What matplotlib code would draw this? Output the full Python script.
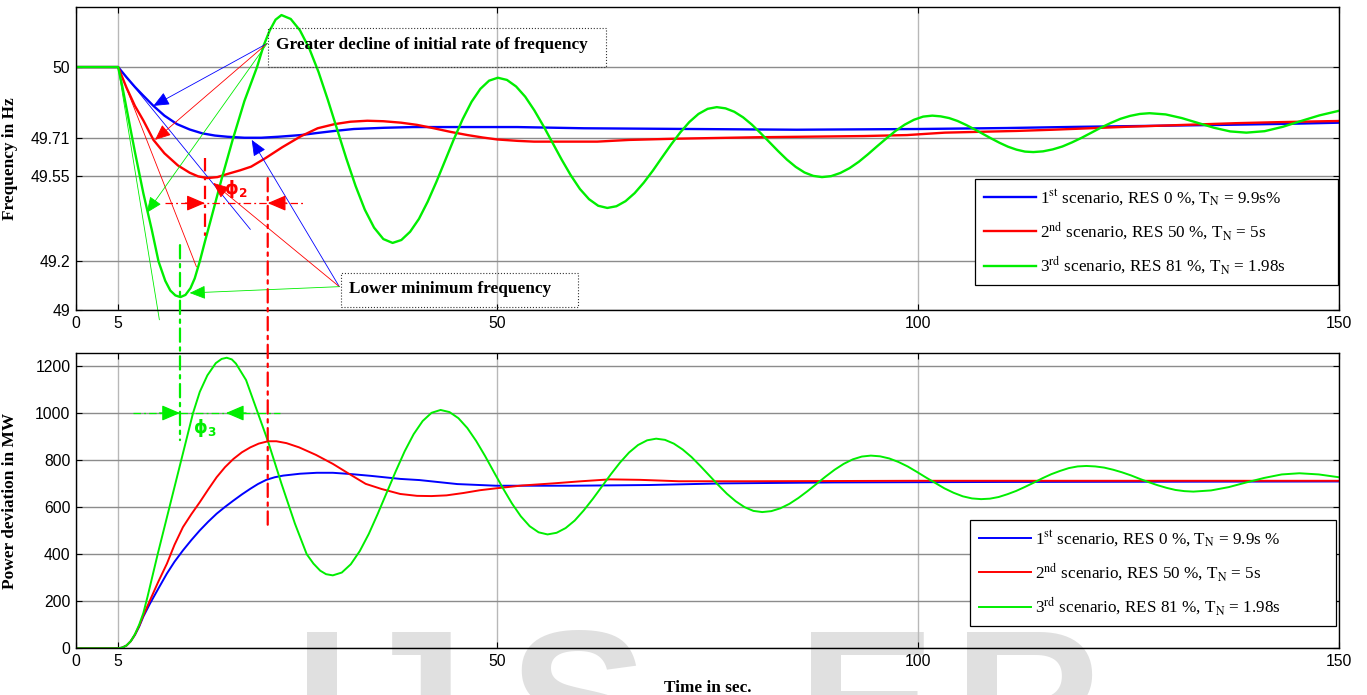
import matplotlib
matplotlib.use('Agg')
import matplotlib.pyplot as plt
from matplotlib.patches import Rectangle, ConnectionPatch

plt.rcParams['font.family'] = ['Liberation Sans', 'DejaVu Sans']
plt.rcParams['mathtext.fontset'] = 'stix'

# ---- data ----
# frequency (Hz)
t_f1 = [0, 5, 6, 7, 8, 9.2, 10.5, 12, 13.5, 15, 16.5, 18, 20, 22, 24, 26.7, 28.5, 30.7, 33, 36.6,
        40, 52.4, 60.3, 85.6, 100.2, 110.5, 119.2, 127.9, 136.2, 144.9, 150]
f1 = [50, 50, 49.958, 49.918, 49.882, 49.84, 49.80, 49.765, 49.743, 49.727, 49.718, 49.713, 49.709,
      49.709, 49.713, 49.72, 49.728, 49.737, 49.745, 49.75, 49.753, 49.753, 49.748, 49.742, 49.745,
      49.749, 49.754, 49.758, 49.762, 49.767, 49.771]

t_f2 = [0, 5, 6, 7, 8, 9.2, 10.5, 12.1, 13.5, 14.5, 15.6, 16.8, 18, 19.5, 20.8, 22.5, 24.5, 26.7,
        28.7, 30.7, 32.6, 34.6, 36.5, 38.6, 40.5, 42.5, 44.5, 46.5, 48.3, 50, 52.5, 54.4, 61.9, 65.7,
        71.2, 80.9, 93.6, 98.7, 103.2, 111.7, 116, 120.4, 124.7, 129.1, 133.5, 137.8, 142.6, 146.9, 150]
f2 = [50, 50, 49.915, 49.84, 49.78, 49.70, 49.645, 49.595, 49.565, 49.55, 49.543, 49.547, 49.56,
      49.575, 49.59, 49.625, 49.67, 49.715, 49.748, 49.765, 49.775, 49.779, 49.777, 49.771, 49.762,
      49.748, 49.733, 49.72, 49.71, 49.702, 49.696, 49.693, 49.693, 49.70, 49.705, 49.711, 49.716,
      49.72, 49.73, 49.737, 49.742, 49.748, 49.754, 49.759, 49.764, 49.769, 49.773, 49.776, 49.778]

t_f3 = [0, 5, 5.5, 6, 7, 8, 9, 9.8, 10.6, 11.2, 11.8, 12.4, 13.0, 13.6, 14.1, 14.7, 15.3, 16, 17.3,
        18.6, 20, 21.5, 22.3, 23, 23.7, 24.4,
        25.5, 26.6, 27.7, 28.8, 29.9, 31.0, 32.1, 33.2, 34.3, 35.4, 36.5, 37.6,
        38.64, 39.68, 40.73, 41.77, 42.81, 43.85, 44.89, 45.93, 46.98, 48.02, 49.06, 50.1,
        51.18, 52.27, 53.35, 54.43, 55.52, 56.6, 57.68, 58.77, 59.85, 60.93, 62.02, 63.1,
        64.18, 65.27, 66.35, 67.43, 68.52, 69.6, 70.68, 71.77, 72.85, 73.93, 75.02, 76.1,
        77.14, 78.18, 79.23, 80.27, 81.31, 82.35, 83.39, 84.43, 85.48, 86.52, 87.56, 88.6,
        89.69, 90.78, 91.88, 92.97, 94.06, 95.15, 96.24, 97.33, 98.43, 99.52, 100.61, 101.7,
        102.7, 103.7, 104.7, 105.7, 106.7, 107.7, 108.7, 109.7, 110.7, 111.7, 112.7, 113.7,
        114.85, 116.0, 117.15, 118.3, 119.45, 120.6, 121.75, 122.9, 124.05, 125.2, 126.35, 127.5,
        129.42, 131.33, 133.25, 135.17, 137.08, 139, 141.17, 143.33, 145.5, 147.67, 150]
f3 = [50, 50, 49.92, 49.83, 49.65, 49.48, 49.33, 49.2, 49.12, 49.08, 49.06, 49.053, 49.062, 49.09,
      49.13, 49.2, 49.28, 49.37, 49.54, 49.70, 49.86, 50.0, 50.09, 50.15, 50.195, 50.214,
      50.198, 50.151, 50.077, 49.980, 49.866, 49.745, 49.624, 49.511, 49.413, 49.339, 49.292, 49.276,
      49.288, 49.322, 49.375, 49.446, 49.528, 49.616, 49.704, 49.786, 49.857, 49.910, 49.944, 49.956,
      49.947, 49.920, 49.878, 49.822, 49.757, 49.688, 49.619, 49.554, 49.498, 49.456, 49.429, 49.42,
      49.427, 49.448, 49.481, 49.524, 49.574, 49.628, 49.681, 49.731, 49.774, 49.807, 49.828, 49.835,
      49.830, 49.816, 49.793, 49.763, 49.728, 49.691, 49.654, 49.619, 49.589, 49.566, 49.552, 49.547,
      49.551, 49.564, 49.584, 49.610, 49.641, 49.674, 49.706, 49.737, 49.763, 49.783, 49.796, 49.80,
      49.797, 49.790, 49.778, 49.762, 49.744, 49.725, 49.706, 49.688, 49.672, 49.66, 49.652, 49.65,
      49.653, 49.661, 49.673, 49.69, 49.709, 49.73, 49.751, 49.77, 49.787, 49.799, 49.807, 49.81,
      49.805, 49.79, 49.77, 49.75, 49.735, 49.73, 49.736, 49.754, 49.778, 49.801, 49.82]

# power deviation (MW)
t_p1 = [0, 5, 5.5, 6, 6.5, 7, 7.5, 8, 8.8, 9.8, 10.8, 11.7, 12.7, 13.7, 14.7, 15.7, 16.7, 17.7,
        18.7, 19.7, 20.7, 21.6, 22.6, 23.6, 24.6, 26.6, 28.6, 30.5, 32.5, 35, 38.5, 40.8, 45.3, 49.9,
        58.9, 68, 77, 90, 110, 150]
p1 = [0, 0, 3, 12, 30, 57, 92, 135, 191, 255, 318, 368, 416, 460, 501, 538, 572, 601, 628, 654,
      678, 698, 716, 727, 734, 742, 746, 746, 741, 733, 720, 715, 698, 691, 691, 694, 701, 705, 707, 709]

t_p2 = [0, 5, 5.5, 6, 6.5, 7, 7.5, 8, 8.8, 9.8, 10.8, 11.7, 12.7, 13.7, 14.7, 15.7, 16.7, 17.7,
        18.7, 19.7, 20.7, 21.7, 22.8, 23.8, 25, 26.5, 28.5, 30.5, 32.5, 34.4, 36.3, 38.5, 40.5, 42.2,
        44, 46, 48, 49.9, 53, 56.7, 60, 63.4, 67, 71.6, 80, 100, 150]
p2 = [0, 0, 3, 12, 30, 58, 95, 140, 205, 285, 360, 440, 515, 570, 621, 675, 727, 770, 805, 833,
      854, 870, 880, 880, 872, 854, 822, 784, 740, 699, 677, 656, 648, 647, 650, 660, 672, 680, 692,
      701, 710, 718, 716, 710, 710, 712, 712]

t_p3 = [0, 5, 5.5, 6, 6.5, 7, 7.5, 8, 8.5, 9.1, 9.7, 10.4, 11.1, 11.8, 12.5, 13.2, 13.9, 14.7,
        15.6, 16.6, 17.3, 17.9, 18.5, 19.0, 20.2, 21.6, 22.8, 24.4, 26.0, 27.4, 28.2, 29.0, 29.7, 30.5,
        31.57, 32.63, 33.7, 34.77, 35.83, 36.9, 37.97, 39.03, 40.1, 41.17, 42.23, 43.3,
        44.36, 45.42, 46.48, 47.53, 48.59, 49.65, 50.71, 51.77, 52.83, 53.88, 54.94, 56.0,
        57.08, 58.15, 59.23, 60.3, 61.38, 62.45, 63.53, 64.6, 65.68, 66.75, 67.83, 68.9,
        69.95, 71.0, 72.05, 73.1, 74.15, 75.2, 76.25, 77.3, 78.35, 79.4, 80.45, 81.5,
        82.58, 83.65, 84.73, 85.8, 86.88, 87.95, 89.03, 90.1, 91.18, 92.25, 93.33, 94.4,
        95.49, 96.58, 97.68, 98.77, 99.86, 100.95, 102.04, 103.13, 104.23, 105.32, 106.41, 107.5,
        108.54, 109.58, 110.63, 111.67, 112.71, 113.75, 114.79, 115.83, 116.88, 117.92, 118.96, 120,
        121.06, 122.12, 123.18, 124.23, 125.29, 126.35, 127.41, 128.47, 129.52, 130.58, 131.64, 132.7,
        134.8, 136.9, 139.0, 141.1, 143.2, 145.3, 147.6, 150]
p3 = [0, 0, 3, 12, 30, 60, 100, 150, 220, 310, 400, 500, 600, 700, 800, 900, 1000, 1090,
      1160, 1212, 1230, 1235, 1228, 1210, 1140, 1000, 880, 700, 530, 400, 360, 330, 315, 310,
      322, 357, 413, 486, 571, 661, 752, 837, 910, 966, 1001, 1013,
      1004, 978, 936, 881, 817, 748, 680, 616, 561, 519, 493, 484,
      491, 511, 543, 586, 635, 687, 740, 789, 832, 864, 884, 891,
      886, 870, 845, 813, 775, 735, 695, 657, 625, 600, 584, 579,
      583, 595, 614, 639, 668, 699, 730, 759, 784, 803, 815, 819,
      816, 807, 792, 773, 750, 726, 703, 680, 661, 646, 637, 634,
      636, 643, 655, 669, 686, 704, 723, 740, 754, 766, 773, 775,
      773, 768, 759, 748, 735, 720, 706, 693, 682, 673, 668, 666,
      671, 685, 705, 724, 739, 744, 739, 727]

labels_top = [r'1$^{\rm st}$ scenario, RES 0 %, T$_{\rm N}$ = 9.9s%',
              r'2$^{\rm nd}$ scenario, RES 50 %, T$_{\rm N}$ = 5s',
              r'3$^{\rm rd}$ scenario, RES 81 %, T$_{\rm N}$ = 1.98s']
labels_bot = [r'1$^{\rm st}$ scenario, RES 0 %, T$_{\rm N}$ = 9.9s %',
              r'2$^{\rm nd}$ scenario, RES 50 %, T$_{\rm N}$ = 5s',
              r'3$^{\rm rd}$ scenario, RES 81 %, T$_{\rm N}$ = 1.98s']
colors = ['#0000ff', '#ff0000', '#00ee00']
xticks = [0, 5, 50, 100, 150]
fticks = [49, 49.2, 49.55, 49.71, 50]
pticks = [0, 200, 400, 600, 800, 1000, 1200]

serif = ['Liberation Serif', 'DejaVu Serif']

fig = plt.figure(figsize=(13.67, 6.95), dpi=100)
ax1 = fig.add_axes([0.0556, 0.554, 0.9239, 0.4355])
ax2 = fig.add_axes([0.0556, 0.0672, 0.9239, 0.4245])

# watermark behind everything
for ch, xp in zip('IJSER', [0.214, 0.255, 0.372, 0.583, 0.697]):
    fig.text(xp, -0.115, ch, fontsize=150, color='#e0e0e0', family='Liberation Sans',
             fontweight='bold', zorder=-1)

for ax in (ax1, ax2):
    ax.set_facecolor('none')
    ax.set_xlim(0, 150)
    ax.set_xticks(xticks)
    ax.tick_params(direction='in', top=True, right=True, length=4, width=0.8,
                   labelsize=11.3, pad=4)
    for s in ax.spines.values():
        s.set_linewidth(1.0)
        s.set_zorder(5)
    ax.grid(axis='x', color='#b8b8b8', lw=1.0)
    ax.grid(axis='y', color='#8c8c8c', lw=1.0)
    ax.set_axisbelow(True)

# ---- top: frequency ----
for t, f, c, lab in zip([t_f1, t_f2, t_f3], [f1, f2, f3], colors, labels_top):
    ax1.plot(t, f, color=c, lw=1.7, label=lab, zorder=3)
ax1.set_ylim(49, 50.246)
ax1.set_yticks(fticks)
ax1.set_yticklabels(['49', '49.2', '49.55', '49.71', '50'])
ax1.set_ylabel('Frequency in Hz', family=serif, fontweight='bold', fontsize=12.4)
ax1.yaxis.set_label_coords(-0.046, 0.5)

# tangent lines at the start of the decline
ax1.plot([5, 20.7], [50, 49.332], color='#0000ff', lw=0.6, zorder=2)
ax1.plot([5, 14.3], [50, 49.178], color='#ff0000', lw=0.6, zorder=2)
ax1.plot([5, 9.9], [50, 48.96], color='#00ee00', lw=0.6, zorder=2, clip_on=False)

# text boxes
ax1.add_patch(Rectangle((22.77, 50.001), 40.2, 0.161, fill=False, ls=':', lw=0.8,
                        ec='#333333', zorder=4))
ax1.text(23.75, 50.092, 'Greater decline of initial rate of frequency', family=serif,
         fontweight='bold', fontsize=12.4, va='center', zorder=4)
ax1.add_patch(Rectangle((31.44, 49.014), 28.2, 0.139, fill=False, ls=':', lw=0.8,
                        ec='#333333', zorder=4, clip_on=False))
ax1.text(32.4, 49.088, 'Lower minimum frequency', family=serif, fontweight='bold',
         fontsize=12.4, va='center', zorder=4)

def arrow(ax, start, end, c, lw=0.6, ms=14):
    ax.annotate('', xy=end, xytext=start, zorder=4,
                arrowprops=dict(arrowstyle='-|>,head_length=0.7,head_width=0.3', color=c,
                                lw=lw, mutation_scale=ms, shrinkA=0, shrinkB=0))

greater_from = (22.7, 50.097)
arrow(ax1, greater_from, (9.18, 49.84), '#0000ff')
arrow(ax1, greater_from, (9.38, 49.70), '#ff0000')
arrow(ax1, greater_from, (8.4, 49.40), '#00ee00')
lower_from = (31.27, 49.096)
arrow(ax1, lower_from, (20.87, 49.70), '#0000ff')
arrow(ax1, lower_from, (16.3, 49.523), '#ff0000')
arrow(ax1, lower_from, (13.5, 49.07), '#00ee00')

# phase shift phi2 (red)
dd = (0, (6, 2.5, 1.5, 2.5))
ax1.plot([15.3, 15.3], [49.626, 49.296], color='#ff0000', lw=1.6, ls=dd, zorder=4)
ax1.plot([10.6, 27.0], [49.44, 49.44], color='#ff0000', lw=0.9, ls=dd, zorder=4)
arrow(ax1, (13.0, 49.44), (15.3, 49.44), '#ff0000', lw=0.9, ms=16)
arrow(ax1, (25.0, 49.44), (22.77, 49.44), '#ff0000', lw=0.9, ms=16)
ax1.text(19.0, 49.50, '\u03d5$_{\\mathbf{2}}$', color='#ff0000', fontsize=12.5, ha='center',
         va='center', family='DejaVu Sans', math_fontfamily='dejavusans', fontweight='bold')

ax1.legend(loc='upper left', bbox_to_anchor=(0.712, 0.075, 0.287, 0.358), mode='expand',
           borderaxespad=0, prop={'family': serif, 'size': 12.3}, handlelength=3.05,
           handletextpad=0.25, labelspacing=0.75, borderpad=0.5, fancybox=False, framealpha=1,
           edgecolor='black').get_frame().set_linewidth(0.9)

# ---- bottom: power deviation ----
for t, p, c, lab in zip([t_p1, t_p2, t_p3], [p1, p2, p3], colors, labels_bot):
    ax2.plot(t, p, color=c, lw=1.4, label=lab, zorder=3)
ax2.set_ylim(0, 1254)
ax2.set_yticks(pticks)
ax2.set_ylabel('Power deviation in MW', family=serif, fontweight='bold', fontsize=12.4)
ax2.yaxis.set_label_coords(-0.046, 0.5)
ax2.set_xlabel('Time in sec.', family=serif, fontweight='bold', fontsize=12.4, labelpad=8)

# phase shift phi3 (green)
ax2.plot([6.77, 24.2], [1000, 1000], color='#00ee00', lw=0.9, ls=dd, zorder=4)
arrow(ax2, (9.9, 1000), (12.35, 1000), '#00ee00', lw=0.9, ms=16)
arrow(ax2, (20.2, 1000), (17.8, 1000), '#00ee00', lw=0.9, ms=16)
ax2.text(15.3, 935, '\u03d5$_{\\mathbf{3}}$', color='#00ee00', fontsize=12.5, ha='center',
         va='center', family='DejaVu Sans', math_fontfamily='dejavusans', fontweight='bold')

ax2.legend(loc='upper left', bbox_to_anchor=(0.708, 0.067, 0.29, 0.368), mode='expand',
           borderaxespad=0, prop={'family': serif, 'size': 12.3}, handlelength=3.05,
           handletextpad=0.25, labelspacing=0.75, borderpad=0.5, fancybox=False, framealpha=1,
           edgecolor='black').get_frame().set_linewidth(0.9)

# dash-dot markers running across both panels
def vline(t, ya, yb, c):
    con = ConnectionPatch(xyA=(t, ya), coordsA='data', axesA=ax1, xyB=(t, yb), coordsB='data',
                          axesB=ax2, color=c, lw=1.6, ls=dd, zorder=6)
    fig.add_artist(con)

vline(22.77, 49.543, 503, '#ff0000')
vline(12.35, 49.267, 885, '#00ee00')
vline(17.8, 48.985, 673, '#00ee00')

fig.savefig('out.png', dpi=100)
